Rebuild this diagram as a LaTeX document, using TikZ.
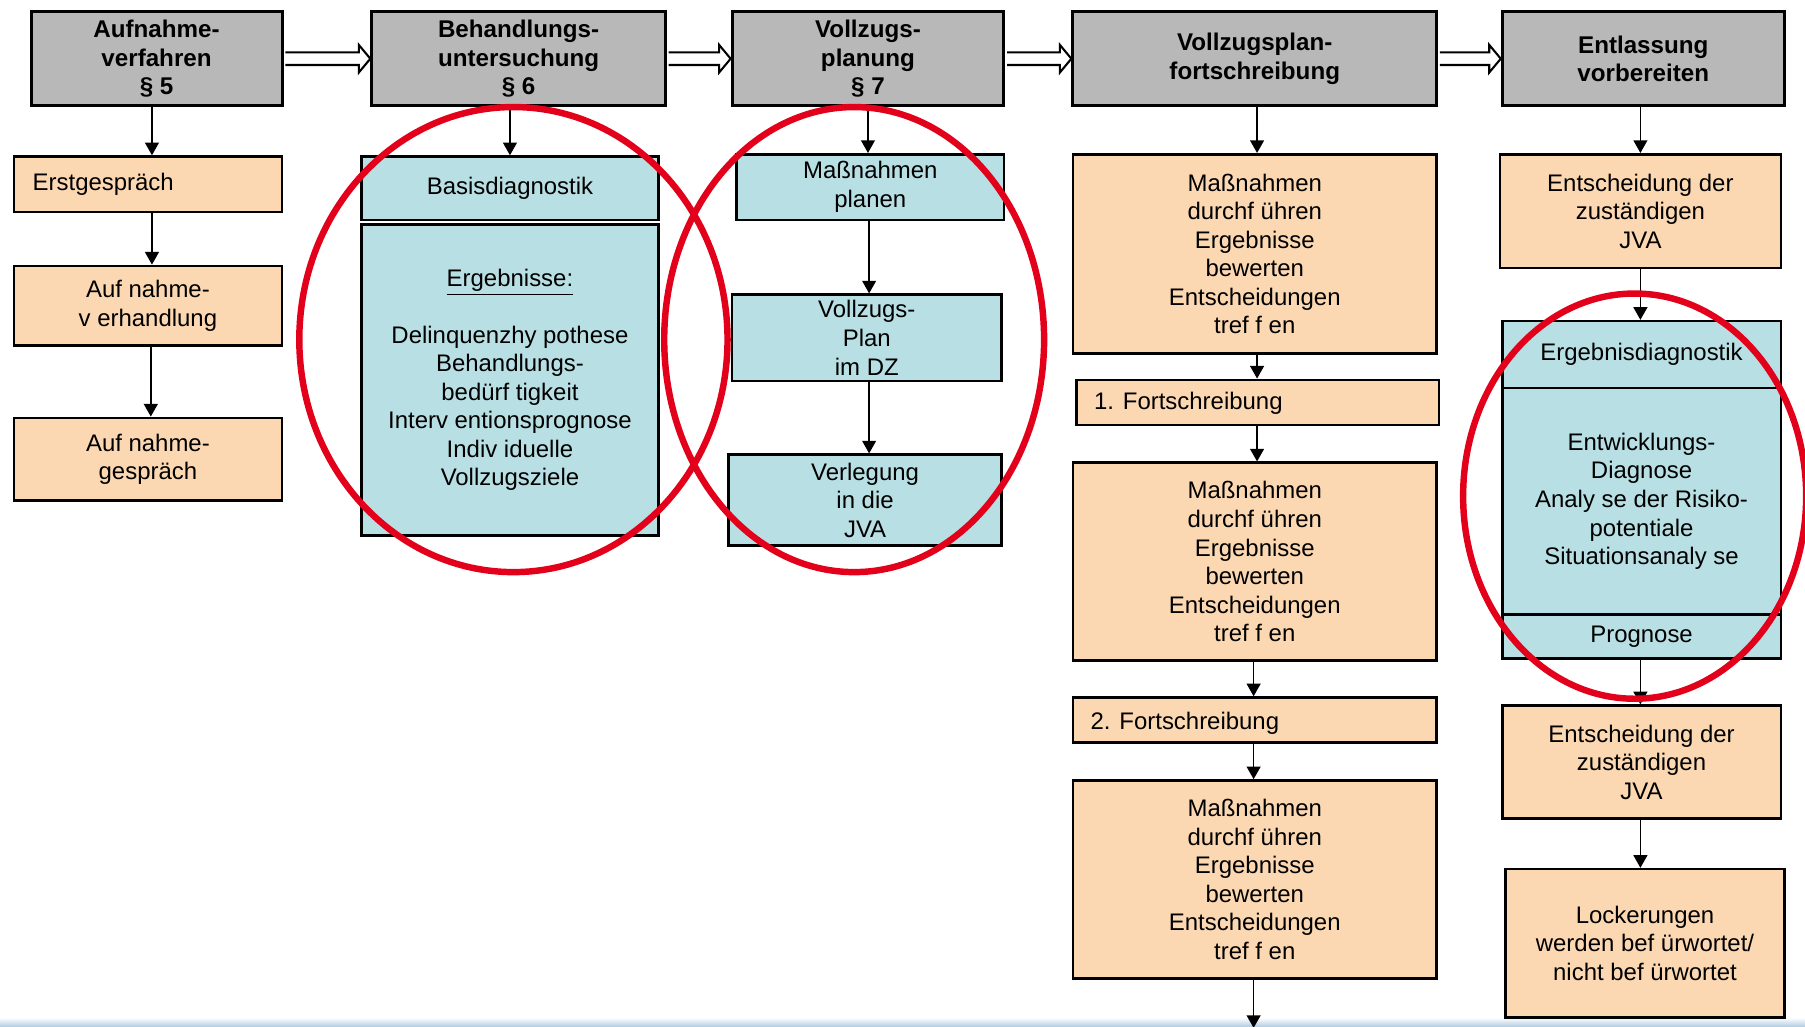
\documentclass[tikz,border=0pt]{standalone}
\usepackage{fontspec}
\setmainfont{Liberation Sans}
\usetikzlibrary{arrows.meta,calc}
\definecolor{hdrgray}{RGB}{184,184,184}
\definecolor{orng}{RGB}{252,216,178}
\definecolor{blu}{RGB}{184,223,227}
\definecolor{redc}{RGB}{227,0,27}
\definecolor{bandc}{RGB}{176,203,226}
\newcommand{\dblarr}[2]{%
  \draw[line width=0.9pt, fill=white, line join=miter]
    ($(#1.east)+(1.5,-5.5)$) -- ($(#2.west)+(-10,-5.5)$) -- ($(#2.west)+(-10,-12)$)
    -- (#2.west) -- ($(#2.west)+(-10,12)$) -- ($(#2.west)+(-10,5.5)$) -- ($(#1.east)+(1.5,5.5)$);}
\newcommand{\bx}[7][]{%
  \node[#1, minimum width={(#5-#3)*0.5pt}, minimum height={(#6-#4)*0.5pt}]
    (#2) at ({(#3+#5)/2},{(#4+#6)/2}) {#7};}
\begin{document}
\begin{tikzpicture}[x=0.5pt,y=-0.5pt,
  every node/.style={font=\fontsize{10.4}{12.4}\selectfont, align=center, inner sep=0pt},
  hdr/.style={draw=black, line width=1.3pt, fill=hdrgray, font=\fontsize{10.5}{12.3}\selectfont\bfseries},
  obox/.style={draw=black, line width=1.1pt, fill=orng},
  bbox/.style={draw=black, line width=1.1pt, fill=blu},
  arr/.style={line width=0.75pt, -{Triangle[length=5.5pt,width=6pt]}},
  ring/.style={draw=redc, line width=2.8pt},
]
\useasboundingbox (0,0) rectangle (1568,892);
\fill[white] (0,0) rectangle (1568,892);
\shade[top color=white, bottom color=bandc] (0,884) rectangle (1568,892);

% headers
\bx[hdr]{h1}{27}{10}{245}{92}{Aufnahme-\\verfahren\\§ 5}
\bx[hdr]{h2}{323}{10}{578}{92}{Behandlungs-\\untersuchung\\§ 6}
\bx[hdr]{h3}{636}{10}{872}{92}{Vollzugs-\\planung\\§ 7}
\bx[hdr]{h4}{932}{10}{1248}{92}{Vollzugsplan-\\fortschreibung}
\bx[hdr]{h5}{1305}{10}{1550}{92}{Entlassung\\vorbereiten}
\dblarr{h1}{h2}
\dblarr{h2}{h3}
\dblarr{h3}{h4}
\dblarr{h4}{h5}

% column 1
\bx[obox]{a1}{12}{136}{245}{184}{}
\node[anchor=west] (a1t) at (28,160) {Erstgespräch};
\bx[obox]{a2}{12}{231}{245}{300}{Auf nahme-\\v erhandlung}
\bx[obox]{a3}{12}{363}{245}{435}{Auf nahme-\\gespräch}
\coordinate (xa) at (132,0);
\coordinate (xb) at (131,0);
\draw[arr] (h1.south -| xa) -- (a1.north -| xa);
\draw[arr] (a1.south -| xa) -- (a2.north -| xa);
\draw[arr] (a2.south -| xb) -- (a3.north -| xb);

% column 2
\bx[bbox]{b1}{314}{136}{572}{191}{Basisdiagnostik}
\bx[bbox]{b2}{314}{195}{572}{465}{\underline{Ergebnisse:}\\[12.2pt]Delinquenzhy pothese\\Behandlungs-\\bedürf tigkeit\\Interv entionsprognose\\Indiv iduelle\\Vollzugsziele}
\coordinate (xc) at (443,0);
\draw[arr] (h2.south -| xc) -- (b1.north -| xc);

% column 3
\bx[bbox]{c1}{640}{134}{872}{191}{Maßnahmen\\planen}
\bx[bbox]{c2}{636}{256}{870}{331}{Vollzugs-\\Plan\\im DZ}
\bx[bbox]{c3}{633}{395}{870}{474}{Verlegung\\in die\\JVA}
\coordinate (xd) at (754,0);
\coordinate (xe) at (755,0);
\draw[arr] (h3.south -| xd) -- (c1.north -| xd);
\draw[arr] (c1.south -| xe) -- (c2.north -| xe);
\draw[arr] (c2.south -| xe) -- (c3.north -| xe);

% column 4
\bx[obox]{d1}{932}{134}{1248}{307}{Maßnahmen\\durchf ühren\\Ergebnisse\\bewerten\\Entscheidungen\\tref f en}
\bx[obox]{d2}{935}{330}{1250}{369}{}
\node[anchor=west] (d2t) at (950,350) {1. Fortschreibung};
\bx[obox]{d3}{932}{402}{1248}{574}{Maßnahmen\\durchf ühren\\Ergebnisse\\bewerten\\Entscheidungen\\tref f en}
\bx[obox]{d4}{932}{606}{1248}{645}{}
\node[anchor=west] (d4t) at (947,628) {2. Fortschreibung};
\bx[obox]{d5}{932}{678}{1248}{850}{Maßnahmen\\durchf ühren\\Ergebnisse\\bewerten\\Entscheidungen\\tref f en}
\coordinate (xf) at (1092,0);
\coordinate (xg) at (1089,0);
\coordinate (bot) at (1089,893);
\draw[arr] (h4.south -| xf) -- (d1.north -| xf);
\draw[arr] (d1.south -| xf) -- (d2.north -| xf);
\draw[arr] (d2.south -| xf) -- (d3.north -| xf);
\draw[arr] (d3.south -| xg) -- (d4.north -| xg);
\draw[arr] (d4.south -| xg) -- (d5.north -| xg);
\draw[arr] (d5.south -| xg) -- (bot);

% column 5
\bx[obox]{e1}{1303}{134}{1547}{233}{Entscheidung der\\zuständigen\\JVA}
\bx[bbox]{e2}{1305}{279}{1547}{337}{Ergebnisdiagnostik}
\bx[bbox]{e3}{1305}{337}{1547}{534}{Entwicklungs-\\Diagnose\\Analy se der Risiko-\\potentiale\\Situationsanaly se}
\bx[bbox]{e4}{1305}{534}{1547}{572}{Prognose}
\bx[obox]{e5}{1305}{613}{1547}{711}{Entscheidung der\\zuständigen\\JVA}
\bx[obox]{e6}{1308}{755}{1550}{884}{Lockerungen\\werden bef ürwortet/\\nicht bef ürwortet}
\coordinate (xh) at (1425,0);
\draw[arr] (h5.south -| xh) -- (e1.north -| xh);
\draw[arr] (e1.south -| xh) -- (e2.north -| xh);
\draw[arr] (e4.south -| xh) -- (e5.north -| xh);
\draw[arr] (e5.south -| xh) -- (e6.north -| xh);

% red rings
\draw[ring] (446,295) ellipse [x radius=186, y radius=202];
\draw[ring] (742,295) ellipse [x radius=165, y radius=202];
\draw[ring] (1420,431) ellipse [x radius=149, y radius=176];
\end{tikzpicture}
\end{document}
